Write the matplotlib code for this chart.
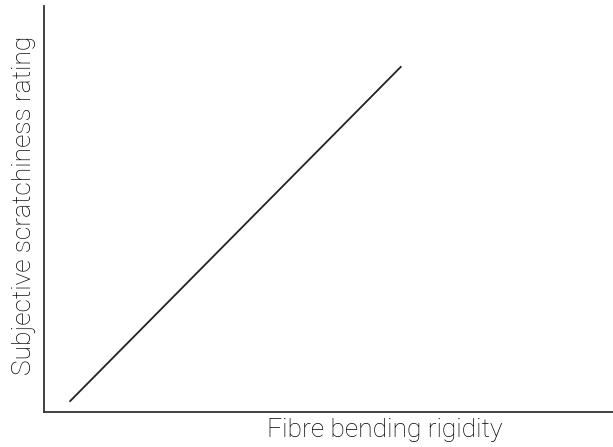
import matplotlib
matplotlib.use("Agg")
import matplotlib.pyplot as plt

# schematic relation: rigidity vs perceived scratchiness (arbitrary units)
rigidity = [0.46, 6.27]
scratchiness = [0.27, 8.50]

plt.rcParams["font.family"] = ["Roboto", "DejaVu Sans"]

fig = plt.figure(figsize=(6.13, 4.47), dpi=100)
ax = fig.add_axes([44 / 613, 1 - 412 / 447, 1 - 44 / 613, (412 - 6) / 447])

ax.plot(rigidity, scratchiness, color="#222222", lw=1.3)
ax.set_xlim(0, 10)
ax.set_ylim(0, 10)
ax.set_xticks([])
ax.set_yticks([])
for side in ("top", "right"):
    ax.spines[side].set_visible(False)
for side in ("left", "bottom"):
    ax.spines[side].set_color("#333333")
    ax.spines[side].set_linewidth(1.3)

fig.text(385 / 613, 1 - 430 / 447, "Fibre bending rigidity", ha="center",
         va="center", fontsize=19, fontweight="light", color="#000000")
fig.text(24 / 613, 1 - 205 / 447, "Subjective scratchiness rating", ha="center",
         va="center", rotation=90, fontsize=19, fontweight="light", color="#000000")

fig.savefig("out.png", dpi=100)
